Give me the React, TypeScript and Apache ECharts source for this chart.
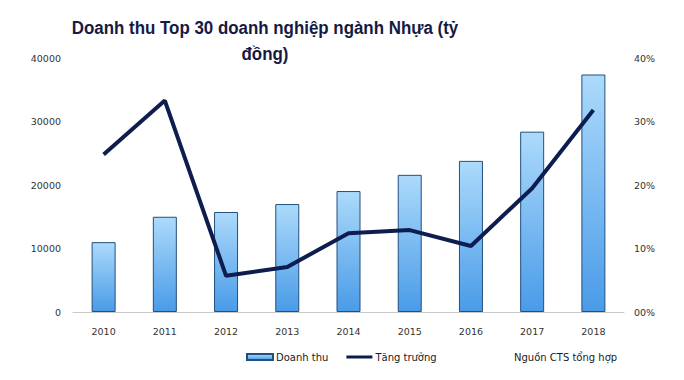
import React, { useEffect, useRef } from "react";
import * as echarts from "echarts";

const years = ["2010", "2011", "2012", "2013", "2014", "2015", "2016", "2017", "2018"];
const revenue = [11000, 15000, 15750, 17000, 19050, 21600, 23800, 28400, 37400];
const growth = [24.8, 33.3, 5.7, 7.1, 12.4, 12.9, 10.4, 19.5, 31.8];
const leftTicks = [0, 10000, 20000, 30000, 40000];
const rightTicks = ["00%", "10%", "20%", "30%", "40%"];

const FONT = "DejaVu Sans";

export default function App() {
  const ref = useRef<HTMLDivElement>(null);
  useEffect(() => {
    document.body.style.margin = "0";
    if (!ref.current) return;
    const chart = echarts.init(ref.current, undefined, { renderer: "svg" });
    const barGrad = new echarts.graphic.LinearGradient(0, 0, 0, 1, [
      { offset: 0, color: "#acdafb" },
      { offset: 1, color: "#4a9be8" },
    ]);
    chart.setOption({
      animation: false,
      backgroundColor: "#ffffff",
      grid: { left: 73, right: 60, top: 58, bottom: 68, containLabel: false },
      legend: {
        left: 246,
        top: 352,
        padding: 0,
        itemGap: 18,
        itemWidth: 26,
        itemHeight: 6,
        textStyle: { fontFamily: FONT, fontSize: 10, color: "#1a1a1a", padding: [0, 0, 0, -2] },
        data: [
          { name: "Doanh thu", icon: "rect" },
          { name: "Tăng trưởng", icon: "path://M0 0H26V3H0Z" },
        ],
      },
      graphic: [
        {
          type: "text",
          x: 265,
          y: 15,
          scaleX: 0.89,
          style: {
            text: "Doanh thu Top 30 doanh nghiệp ngành Nhựa (tỷ\nđồng)",
            font: 'bold 19px "Liberation Sans"',
            lineHeight: 26,
            fill: "#151a45",
            align: "center",
          },
        },
        {
          type: "text",
          left: 514,
          top: 352,
          style: { text: "Nguồn CTS tổng hợp", font: `10px "${FONT}"`, fill: "#1a1a1a" },
        },
      ],
      xAxis: {
        type: "category",
        data: years,
        axisLine: { lineStyle: { color: "#c8c8c8" } },
        axisTick: { show: false },
        axisLabel: { fontFamily: FONT, fontSize: 9.5, color: "#333", margin: 14 },
      },
      yAxis: [
        {
          type: "value",
          min: 0,
          max: 40000,
          interval: 10000,
          splitLine: { show: false },
          axisLine: { show: false },
          axisTick: { show: false },
          axisLabel: {
            fontFamily: FONT,
            fontSize: 9.5,
            color: "#333",
            margin: 12,
            formatter: (v: number) => String(leftTicks[Math.round(v / 10000)]),
          },
        },
        {
          type: "value",
          min: 0,
          max: 40,
          interval: 10,
          splitLine: { show: false },
          axisLine: { show: false },
          axisTick: { show: false },
          axisLabel: {
            fontFamily: FONT,
            fontSize: 9.5,
            color: "#333",
            margin: 10,
            formatter: (v: number) => rightTicks[Math.round(v / 10)],
          },
        },
      ],
      series: [
        {
          name: "Doanh thu",
          type: "bar",
          data: revenue,
          barWidth: 24,
          itemStyle: { color: barGrad, borderColor: "#22507e", borderWidth: 1 },
        },
        {
          name: "Tăng trưởng",
          type: "line",
          yAxisIndex: 1,
          data: growth,
          symbol: "none",
          lineStyle: { color: "#0d1d4f", width: 4 },
          itemStyle: { color: "#0d1d4f" },
        },
      ],
    });
    return () => chart.dispose();
  }, []);
  return <div ref={ref} style={{ width: 684, height: 380 }} />;
}
